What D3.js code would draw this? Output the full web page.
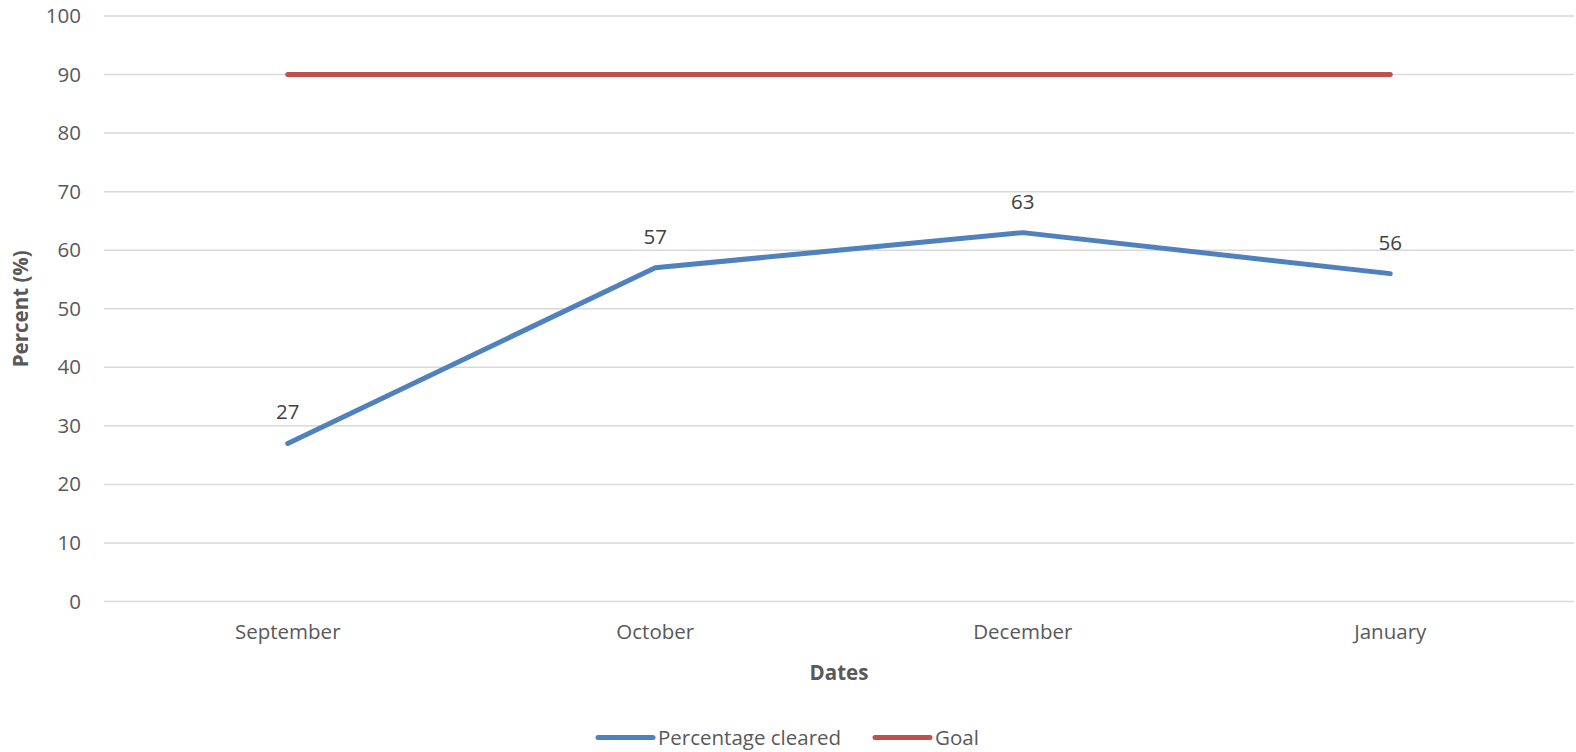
<!DOCTYPE html>
<html>
<head>
<meta charset="utf-8">
<script src="https://cdn.jsdelivr.net/npm/d3@7"></script>
<style>
  html, body { margin: 0; padding: 0; background: #fff; }
  svg { display: block; font-family: "Open Sans", "Noto Sans", sans-serif; }
</style>
</head>
<body>
<svg id="chart" width="1576" height="752"></svg>
<script>
// Monthly clearance rate against the fixed goal
const categories = ["September", "October", "December", "January"];
const clearedValues = [27, 57, 63, 56];
const goalValues = [90, 90, 90, 90];
const yTicks = [0, 10, 20, 30, 40, 50, 60, 70, 80, 90, 100];
const seriesNames = ["Percentage cleared", "Goal"];
const seriesColors = ["#4F81BD", "#C0504D"];

const svg = d3.select("#chart");
const plot = { left: 104, right: 1574, top: 16, bottom: 601.5 };

const x = d3.scaleBand().domain(categories).range([plot.left, plot.right]);
const y = d3.scaleLinear().domain([0, 100]).range([plot.bottom, plot.top]);
const cx = c => x(c) + x.bandwidth() / 2;

// Horizontal gridlines
svg.append("g")
  .selectAll("line")
  .data(yTicks)
  .join("line")
  .attr("x1", plot.left).attr("x2", plot.right)
  .attr("y1", d => y(d)).attr("y2", d => y(d))
  .attr("stroke", "#d9d9d9").attr("stroke-width", 1.5);

// Y axis labels
const yAxis = d3.axisLeft(y).tickValues(yTicks).tickSize(0).tickPadding(0);
svg.append("g")
  .attr("transform", `translate(${plot.left - 23},0)`)
  .call(yAxis)
  .call(g => g.select(".domain").remove())
  .call(g => g.selectAll("text")
    .attr("fill", "#595959")
    .attr("font-size", 20.5)
    .attr("font-family", "'Open Sans', sans-serif"));

// X axis labels
const xAxis = d3.axisBottom(x).tickSize(0).tickPadding(0);
svg.append("g")
  .attr("transform", `translate(0,${plot.bottom + 23})`)
  .call(xAxis)
  .call(g => g.select(".domain").remove())
  .call(g => g.selectAll("text")
    .attr("fill", "#595959")
    .attr("font-size", 20.5)
    .attr("font-family", "'Open Sans', sans-serif"));

// Axis titles
svg.append("text")
  .attr("x", 839).attr("y", 680)
  .attr("text-anchor", "middle")
  .attr("font-size", 20.5).attr("font-weight", "bold")
  .attr("fill", "#595959")
  .text("Dates");

svg.append("text")
  .attr("transform", `translate(28,${(plot.top + plot.bottom) / 2}) rotate(-90)`)
  .attr("text-anchor", "middle")
  .attr("font-size", 20.5).attr("font-weight", "bold")
  .attr("fill", "#595959")
  .text("Percent (%)");

// Series lines
const line = d3.line().x((d, i) => cx(categories[i])).y(d => y(d));
[clearedValues, goalValues].forEach((vals, i) => {
  svg.append("path")
    .datum(vals)
    .attr("d", line)
    .attr("fill", "none")
    .attr("stroke", seriesColors[i])
    .attr("stroke-width", 5)
    .attr("stroke-linecap", "round")
    .attr("stroke-linejoin", "round");
});

// Value labels above the cleared series
svg.append("g")
  .selectAll("text")
  .data(clearedValues)
  .join("text")
  .attr("x", (d, i) => cx(categories[i]))
  .attr("y", d => y(d) - 24)
  .attr("text-anchor", "middle")
  .attr("font-size", 20.5)
  .attr("fill", "#404040")
  .text(d => d);

// Legend
const legendItems = [
  { name: seriesNames[0], color: seriesColors[0], x0: 598 },
  { name: seriesNames[1], color: seriesColors[1], x0: 875 }
];
const lg = svg.append("g");
legendItems.forEach(it => {
  lg.append("line")
    .attr("x1", it.x0).attr("x2", it.x0 + 55)
    .attr("y1", 737.5).attr("y2", 737.5)
    .attr("stroke", it.color).attr("stroke-width", 5)
    .attr("stroke-linecap", "round");
  lg.append("text")
    .attr("x", it.x0 + 60).attr("y", 737.5)
    .attr("dy", "0.35em")
    .attr("font-size", 20.5)
    .attr("fill", "#595959")
    .text(it.name);
});
</script>
</body>
</html>
